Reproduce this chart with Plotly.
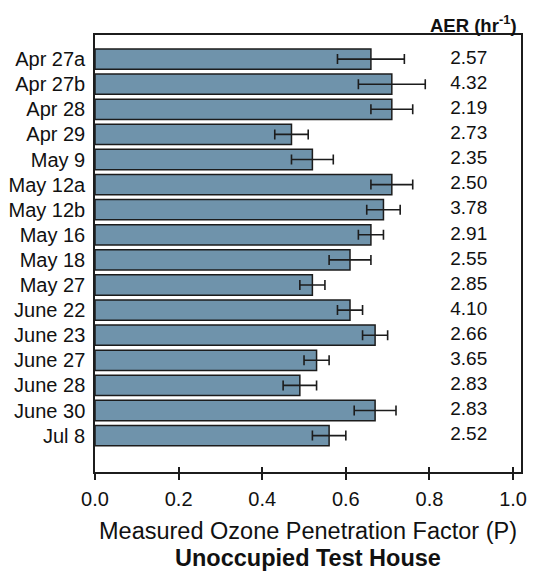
import plotly.graph_objects as go

dates = ["Apr 27a", "Apr 27b", "Apr 28", "Apr 29", "May 9", "May 12a", "May 12b",
         "May 16", "May 18", "May 27", "June 22", "June 23", "June 27", "June 28",
         "June 30", "Jul 8"]
p_values = [0.66, 0.71, 0.71, 0.47, 0.52, 0.71, 0.69, 0.66, 0.61, 0.52, 0.61,
            0.67, 0.53, 0.49, 0.67, 0.56]
p_errors = [0.08, 0.08, 0.05, 0.04, 0.05, 0.05, 0.04, 0.03, 0.05, 0.03, 0.03,
            0.03, 0.03, 0.04, 0.05, 0.04]
aer = ["2.57", "4.32", "2.19", "2.73", "2.35", "2.50", "3.78", "2.91", "2.55",
       "2.85", "4.10", "2.66", "3.65", "2.83", "2.83", "2.52"]
x_ticks = [0.0, 0.2, 0.4, 0.6, 0.8, 1.0]
aer_x = 0.894

FONT = "Liberation Sans, Arial, sans-serif"
DARK = "#1c1c1c"

fig = go.Figure()
fig.add_trace(go.Bar(
    x=p_values, y=dates, orientation="h", width=0.81,
    marker=dict(color="#6f93ab", line=dict(color=DARK, width=1.5)),
    error_x=dict(type="data", array=p_errors, visible=True, color=DARK,
                 thickness=1.6, width=5),
    showlegend=False,
))
fig.add_trace(go.Scatter(
    x=[aer_x] * len(dates), y=dates, mode="text", text=aer,
    textposition="middle center",
    textfont=dict(family=FONT, size=19, color="#111"),
    showlegend=False, cliponaxis=False,
))
# invisible trace on overlay axis for inward tick halves
fig.add_trace(go.Scatter(x=[0], y=[dates[0]], xaxis="x2", mode="markers",
                         marker=dict(opacity=0), showlegend=False, hoverinfo="skip"))

fig.update_layout(
    width=534, height=571,
    margin=dict(l=95, r=7, t=35, b=99),
    paper_bgcolor="white", plot_bgcolor="white",
    font=dict(family=FONT, color="#111"),
    bargap=0.19,
    xaxis=dict(
        range=[0, 1.019], tickvals=x_ticks, ticktext=[f"{v:.1f}" for v in x_ticks],
        ticks="outside", ticklen=6, tickwidth=1.5, tickcolor=DARK,
        showline=True, linecolor=DARK, linewidth=1.5, mirror=True,
        showgrid=False, zeroline=False, ticklabelstandoff=2,
        tickfont=dict(family=FONT, size=20, color="#111"),
        title=dict(text="Measured Ozone Penetration Factor (P)",
                   font=dict(family=FONT, size=23.5, color="#111"), standoff=14),
    ),
    xaxis2=dict(
        overlaying="x", matches="x", anchor="y", side="bottom",
        range=[0, 1.019], tickvals=x_ticks, showticklabels=False,
        ticks="inside", ticklen=5, tickwidth=1.5, tickcolor=DARK,
        showline=False, showgrid=False, zeroline=False,
    ),
    yaxis=dict(
        type="category", categoryarray=dates, range=[16.45, -0.96],
        ticks="", showline=True, linecolor=DARK, linewidth=1.5, mirror=True,
        showgrid=False, zeroline=False, ticklabelstandoff=4,
        tickfont=dict(family=FONT, size=20, color="#111"),
    ),
    annotations=[
        dict(text="<b>AER (hr<sup>-1</sup>)</b>", xref="paper", yref="paper",
             x=0.995, y=1.026, xanchor="right", yanchor="middle", showarrow=False,
             font=dict(family=FONT, size=18.5, color="#111")),
        dict(text="<b>Unoccupied Test House</b>", xref="paper", yref="paper",
             x=0.5, y=-0.197, xanchor="center", yanchor="middle", showarrow=False,
             font=dict(family=FONT, size=23.5, color="#111")),
    ],
)

fig.write_html("out.html")
